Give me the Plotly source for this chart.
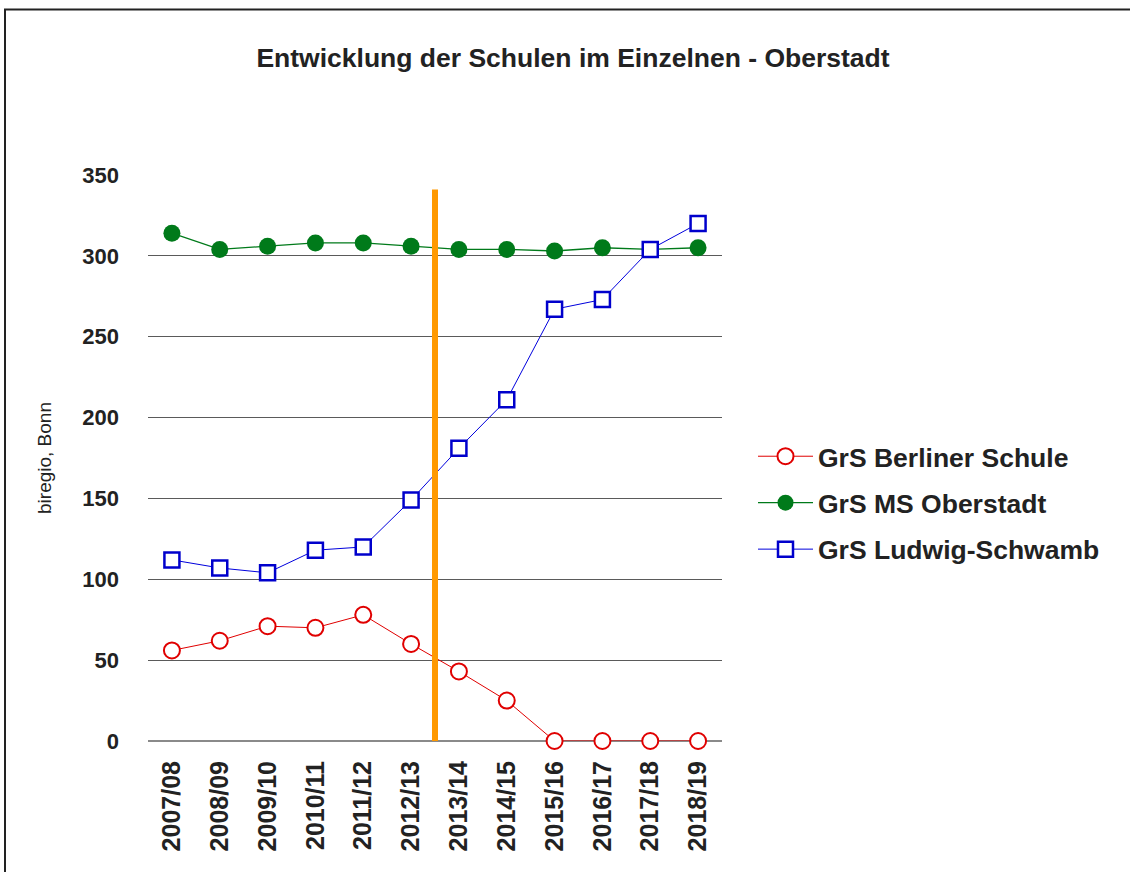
import plotly.graph_objects as go

W, H = 1130, 872
L, R, T, B = 148, 408, 175, 131

categories = ["2007/08", "2008/09", "2009/10", "2010/11", "2011/12", "2012/13",
              "2013/14", "2014/15", "2015/16", "2016/17", "2017/18", "2018/19"]
berliner = [56, 62, 71, 70, 78, 60, 43, 25, 0, 0, 0, 0]
oberstadt = [314, 304, 306, 308, 308, 306, 304, 304, 303, 305, 304, 305]
ludwig = [112, 107, 104, 118, 120, 149, 181, 211, 267, 273, 304, 320]
y_ticks = [0, 50, 100, 150, 200, 250, 300, 350]

marker_pos = 5.5      # between 2012/13 and 2013/14
marker_top = 341

title = "Entwicklung der Schulen im Einzelnen - Oberstadt"
y_title = "biregio, Bonn"
font = "Liberation Sans, Arial, sans-serif"

fig = go.Figure()
fig.add_trace(go.Scatter(
    x=categories, y=berliner, name="GrS Berliner Schule", mode="lines+markers",
    line=dict(color="#e00000", width=1),
    marker=dict(symbol="circle", size=16, color="white", line=dict(color="#e00000", width=2)),
    cliponaxis=False, legendgroup="a"))
fig.add_trace(go.Scatter(
    x=categories, y=oberstadt, name="GrS MS Oberstadt", mode="lines+markers",
    line=dict(color="#007a1a", width=1.3),
    marker=dict(symbol="circle", size=17, color="#007a1a", line=dict(color="#007a1a", width=0)),
    cliponaxis=False, legendgroup="b"))
fig.add_trace(go.Scatter(
    x=categories, y=ludwig, name="GrS Ludwig-Schwamb", mode="lines+markers",
    line=dict(color="#0000dd", width=1),
    marker=dict(symbol="square", size=15, color="white", line=dict(color="#0000cc", width=2.5)),
    cliponaxis=False, legendgroup="c"))

pw = W - L - R
ph = H - T - B
fig.add_shape(type="line", xref="x", yref="y", x0=marker_pos, x1=marker_pos,
              y0=0, y1=marker_top, line=dict(color="#FF9900", width=6), layer="above")
fig.add_shape(type="rect", xref="paper", yref="paper",
              x0=(5 - L) / pw, x1=(W + 10 - L) / pw,
              y0=(H - B - (H + 20)) / ph, y1=(H - B - 9.5) / ph,
              line=dict(color="#222222", width=2), fillcolor="rgba(0,0,0,0)", layer="below")

fig.update_layout(
    width=W, height=H,
    margin=dict(l=L, r=R, t=T, b=B),
    paper_bgcolor="white", plot_bgcolor="white",
    font=dict(family=font, color="#222222"),
    title=dict(text="<b>" + title + "</b>", x=573 / W, xanchor="center",
               y=1 - 58 / H, yanchor="middle", yref="container",
               font=dict(size=26.5, color="#222222")),
    showlegend=True,
    legend=dict(x=(753 - L) / pw, xanchor="left", y=(H - B - 503) / ph, yanchor="middle",
                font=dict(size=26.5, color="#222222", weight="bold"),
                itemwidth=55, tracegroupgap=9, bgcolor="rgba(0,0,0,0)"),
    xaxis=dict(type="category", range=[-0.5, len(categories) - 0.5], tickangle=-90,
               showgrid=False, zeroline=False,
               showline=False, ticks="", ticklabelstandoff=14,
               tickfont=dict(size=25, color="#222222", weight="bold")),
    yaxis=dict(range=[0, 350], tickvals=y_ticks, showgrid=True, gridcolor="#5a5a5a",
               gridwidth=1, zeroline=True, zerolinecolor="#8a8a8a", zerolinewidth=2,
               showline=False, ticks="", ticklabelstandoff=28,
               tickfont=dict(size=22, color="#222222", weight="bold"),
               title=dict(text=y_title, font=dict(size=19, color="#222222"), standoff=25)),
)

fig.write_html("out.html", config={"displayModeBar": False},
               post_script="document.body.style.margin='0px';")
